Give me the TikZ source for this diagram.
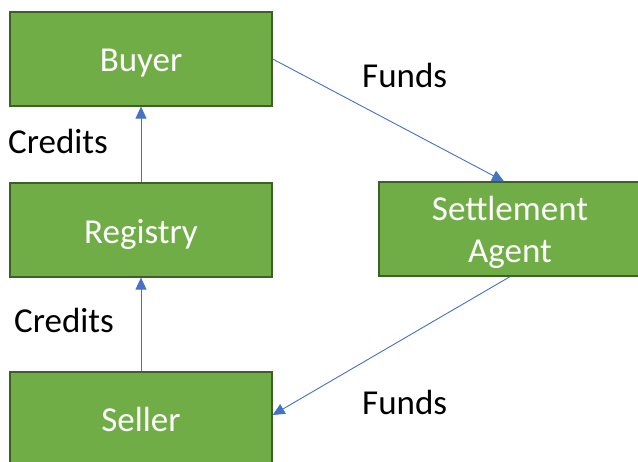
\documentclass[tikz,border=0pt]{standalone}
\usepackage{fontspec}
\setmainfont{Carlito}
\usetikzlibrary{arrows.meta}
\definecolor{boxfill}{HTML}{70AD47}
\definecolor{boxline}{HTML}{3E5F27}
\definecolor{arrowc}{HTML}{4472C4}
\newcommand{\lowertext}[1]{\raisebox{-4pt}[\height][\depth]{#1}}
\begin{document}
\begin{tikzpicture}[x=1pt,y=1pt,
  box/.style={draw=boxline, fill=boxfill, line width=1.3pt, minimum width=262pt, minimum height=94pt,
    inner sep=0pt, text=white, font=\fontsize{35}{42}\selectfont},
  lbl/.style={anchor=base west, inner sep=0pt, font=\fontsize{35}{42}\selectfont},
  conn/.style={draw=arrowc, line width=0.9pt, -{Triangle[length=12pt,width=11pt]}}]
\useasboundingbox (0,0) rectangle (638,-462);
\fill[white] (0,0) rectangle (638,-462);
\node[box] (buyer) at (141,-59) {\lowertext{Buyer}};
\node[box] (registry) at (141,-230) {\lowertext{Registry}};
\node[box] (seller) at (141,-419) {Seller};
\node[box] (settle) at (510,-229) {\lowertext{\begin{tabular}{@{}c@{}}Settlement\\Agent\end{tabular}}};
\node[lbl] (c1) at (8,-154) {Credits};
\node[lbl] (c2) at (14,-333) {Credits};
\node[lbl] (f1) at (362,-88) {Funds};
\node[lbl] (f2) at (362,-415) {Funds};
\draw[conn] (registry.north) -- (buyer.south);
\draw[conn] (seller.north) -- (registry.south);
\draw[conn] (buyer.east) -- ([xshift=-6pt]settle.north);
\draw[conn] (settle.south) -- ([yshift=4pt]seller.east);
\end{tikzpicture}
\end{document}
